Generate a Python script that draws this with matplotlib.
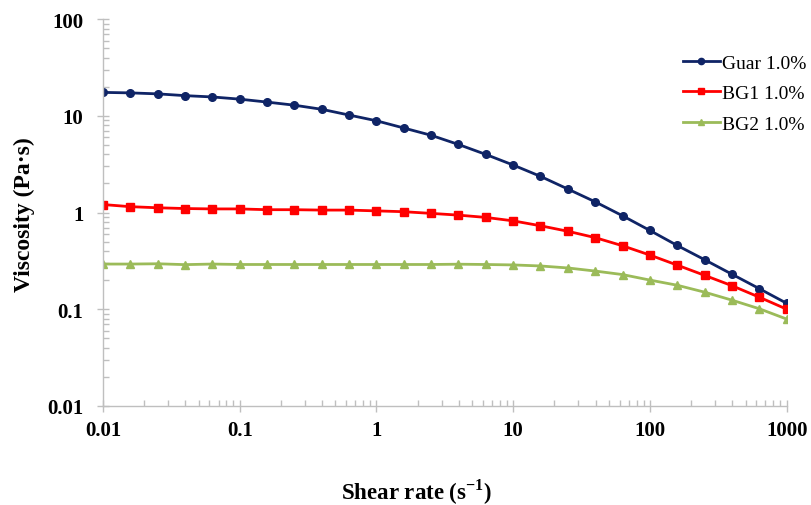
import numpy as np
import matplotlib
matplotlib.use("Agg")
import matplotlib.pyplot as plt
from matplotlib.ticker import LogLocator, FixedLocator, FixedFormatter, NullFormatter

plt.rcParams['font.family'] = ['Liberation Serif', 'DejaVu Serif']
plt.rcParams['mathtext.fontset'] = 'custom'
plt.rcParams['mathtext.rm'] = 'Liberation Serif'
plt.rcParams['mathtext.bf'] = 'Liberation Serif:bold'

# shear rate, 5 points per decade from 0.01 to 1000
shear_rate = [0.01, 0.0158, 0.0251, 0.0398, 0.0631,
              0.1, 0.158, 0.251, 0.398, 0.631,
              1, 1.58, 2.51, 3.98, 6.31,
              10, 15.8, 25.1, 39.8, 63.1,
              100, 158, 251, 398, 631, 1000]

guar = [17.5, 17.3, 16.9, 16.2, 15.7, 14.9, 13.9, 12.9, 11.7, 10.2,
        8.9, 7.5, 6.3, 5.06, 3.99, 3.10, 2.37, 1.75, 1.29, 0.925,
        0.652, 0.457, 0.325, 0.230, 0.163, 0.115]
bg1 = [1.21, 1.15, 1.12, 1.10, 1.09, 1.09, 1.07, 1.07, 1.06, 1.06,
       1.04, 1.02, 0.98, 0.94, 0.89, 0.82, 0.73, 0.64, 0.55, 0.453,
       0.363, 0.286, 0.224, 0.175, 0.133, 0.100]
bg2 = [0.293, 0.293, 0.295, 0.289, 0.293, 0.290, 0.290, 0.290, 0.290, 0.290,
       0.290, 0.290, 0.290, 0.292, 0.290, 0.287, 0.280, 0.267, 0.248, 0.228,
       0.200, 0.177, 0.150, 0.124, 0.101, 0.079]

labels = ['Guar 1.0%', 'BG1 1.0%', 'BG2 1.0%']
colors = ['#0F2466', '#FF0000', '#9BBB59']

fig = plt.figure(figsize=(8.11, 5.06), dpi=100)
ax = fig.add_axes([0.127, 0.196, 0.843, 0.764])

ax.plot(shear_rate, guar, color=colors[0], marker='o', markersize=5.5, lw=2, label=labels[0])
ax.plot(shear_rate, bg1, color=colors[1], marker='s', markersize=5.5, lw=2, label=labels[1])
ax.plot(shear_rate, bg2, color=colors[2], marker='^', markersize=5.5, lw=2, label=labels[2])

ax.set_xscale('log')
ax.set_yscale('log')
ax.set_xlim(0.01, 1000)
ax.set_ylim(0.01, 100)

for s in ['top', 'right']:
    ax.spines[s].set_visible(False)
for s in ['left', 'bottom']:
    ax.spines[s].set_color('#BFBFBF')
    ax.spines[s].set_linewidth(1)

xt = [0.01, 0.1, 1, 10, 100, 1000]
yt = [0.01, 0.1, 1, 10, 100]
ax.xaxis.set_major_locator(FixedLocator(xt))
ax.xaxis.set_major_formatter(FixedFormatter(['0.01', '0.1', '1', '10', '100', '1000']))
ax.yaxis.set_major_locator(FixedLocator(yt))
ax.yaxis.set_major_formatter(FixedFormatter(['0.01', '0.1', '1', '10', '100']))
ax.xaxis.set_minor_locator(LogLocator(base=10, subs=np.arange(2, 10)))
ax.yaxis.set_minor_locator(LogLocator(base=10, subs=np.arange(2, 10)))
ax.xaxis.set_minor_formatter(NullFormatter())
ax.yaxis.set_minor_formatter(NullFormatter())

ax.tick_params(which='major', direction='inout', length=8, color='#BFBFBF', width=1,
               labelsize=15)
ax.tick_params(axis='y', which='major', pad=10)
ax.tick_params(axis='x', which='major', pad=6)
ax.tick_params(which='minor', direction='in', length=4, color='#BFBFBF', width=1)
for t in ax.get_xticklabels() + ax.get_yticklabels():
    t.set_fontweight('bold')

fig.text(417 / 811, 1 - 500 / 506, r'Shear rate (s$^{\mathregular{-1}}$)', fontsize=16.5,
         fontweight='bold', ha='center', va='baseline')
fig.text(24 / 811, 1 - 215 / 506, 'Viscosity (Pa·s)', fontsize=17, fontweight='bold',
         ha='center', va='center', rotation=90)

leg = ax.legend(loc='upper left', bbox_to_anchor=(0.848, 0.91), frameon=False,
                fontsize=14, handlelength=1.9, handletextpad=0.1, labelspacing=0.66,
                borderaxespad=0, borderpad=0)
for h in leg.legend_handles:
    h.set_markersize(4.5)

fig.savefig('out.png', dpi=100)
